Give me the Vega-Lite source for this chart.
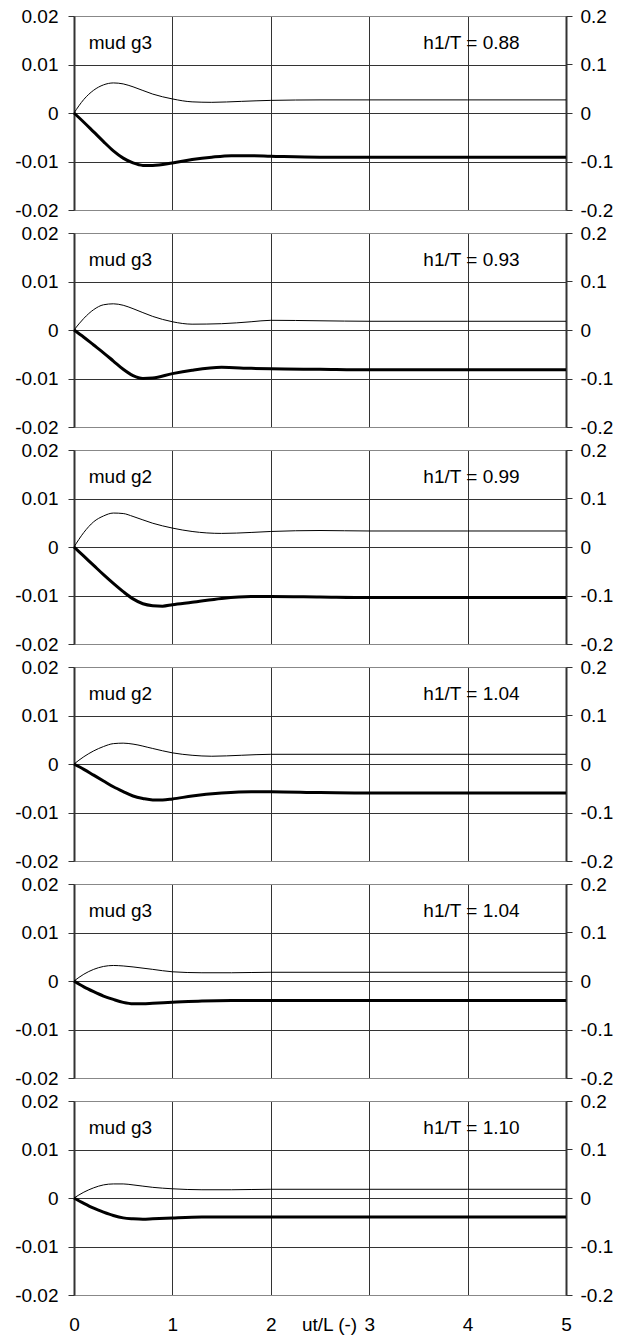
{
"$schema": "https://vega.github.io/schema/vega-lite/v6.json",
"padding": {"left": 14, "top": 7, "right": 5, "bottom": 5},
"spacing": 23,
"bounds": "flush",
"config": {"view": {"stroke": null}, "font": "Liberation Sans", "axis": {"labelFont": "Liberation Sans", "labelFontSize": 19, "labelColor": "#000", "titleFont": "Liberation Sans", "titleFontSize": 19, "titleColor": "#000", "titleFontWeight": "normal", "labelFlush": false, "labelOverlap": false}, "text": {"font": "Liberation Sans", "fontSize": 19, "color": "#000"}},
"datasets": {
"c": [
{"p":1,"s":"thick","x":0,"v":0},{"p":1,"s":"thick","x":0.1,"v":-0.0019},{"p":1,"s":"thick","x":0.2,"v":-0.0039},{"p":1,"s":"thick","x":0.3,"v":-0.0059},{"p":1,"s":"thick","x":0.4,"v":-0.0078},{"p":1,"s":"thick","x":0.5,"v":-0.0093},{"p":1,"s":"thick","x":0.6,"v":-0.0103},{"p":1,"s":"thick","x":0.7,"v":-0.0108},{"p":1,"s":"thick","x":0.8,"v":-0.0108},{"p":1,"s":"thick","x":1.0,"v":-0.0103},{"p":1,"s":"thick","x":1.2,"v":-0.0096},{"p":1,"s":"thick","x":1.4,"v":-0.0091},{"p":1,"s":"thick","x":1.6,"v":-0.0088},{"p":1,"s":"thick","x":1.8,"v":-0.0088},{"p":1,"s":"thick","x":2.0,"v":-0.0089},{"p":1,"s":"thick","x":2.5,"v":-0.0091},{"p":1,"s":"thick","x":3,"v":-0.0091},{"p":1,"s":"thick","x":4,"v":-0.0091},{"p":1,"s":"thick","x":5,"v":-0.0091},
{"p":1,"s":"thin","x":0,"v":0},{"p":1,"s":"thin","x":0.1,"v":0.028},{"p":1,"s":"thin","x":0.2,"v":0.047},{"p":1,"s":"thin","x":0.3,"v":0.058},{"p":1,"s":"thin","x":0.4,"v":0.062},{"p":1,"s":"thin","x":0.5,"v":0.060},{"p":1,"s":"thin","x":0.6,"v":0.054},{"p":1,"s":"thin","x":0.8,"v":0.039},{"p":1,"s":"thin","x":1.0,"v":0.029},{"p":1,"s":"thin","x":1.2,"v":0.023},{"p":1,"s":"thin","x":1.4,"v":0.022},{"p":1,"s":"thin","x":1.7,"v":0.024},{"p":1,"s":"thin","x":2.0,"v":0.026},{"p":1,"s":"thin","x":2.5,"v":0.027},{"p":1,"s":"thin","x":3,"v":0.027},{"p":1,"s":"thin","x":4,"v":0.027},{"p":1,"s":"thin","x":5,"v":0.027},
{"p":2,"s":"thick","x":0,"v":0},{"p":2,"s":"thick","x":0.1,"v":-0.0015},{"p":2,"s":"thick","x":0.2,"v":-0.0031},{"p":2,"s":"thick","x":0.3,"v":-0.0047},{"p":2,"s":"thick","x":0.4,"v":-0.0064},{"p":2,"s":"thick","x":0.5,"v":-0.0081},{"p":2,"s":"thick","x":0.6,"v":-0.0094},{"p":2,"s":"thick","x":0.7,"v":-0.0100},{"p":2,"s":"thick","x":0.8,"v":-0.0099},{"p":2,"s":"thick","x":1.0,"v":-0.0090},{"p":2,"s":"thick","x":1.2,"v":-0.0083},{"p":2,"s":"thick","x":1.5,"v":-0.0077},{"p":2,"s":"thick","x":1.8,"v":-0.0079},{"p":2,"s":"thick","x":2.0,"v":-0.0080},{"p":2,"s":"thick","x":2.5,"v":-0.0081},{"p":2,"s":"thick","x":3,"v":-0.0082},{"p":2,"s":"thick","x":4,"v":-0.0082},{"p":2,"s":"thick","x":5,"v":-0.0082},
{"p":2,"s":"thin","x":0,"v":0},{"p":2,"s":"thin","x":0.1,"v":0.024},{"p":2,"s":"thin","x":0.2,"v":0.042},{"p":2,"s":"thin","x":0.3,"v":0.052},{"p":2,"s":"thin","x":0.4,"v":0.054},{"p":2,"s":"thin","x":0.5,"v":0.051},{"p":2,"s":"thin","x":0.6,"v":0.044},{"p":2,"s":"thin","x":0.8,"v":0.028},{"p":2,"s":"thin","x":1.0,"v":0.017},{"p":2,"s":"thin","x":1.2,"v":0.012},{"p":2,"s":"thin","x":1.5,"v":0.013},{"p":2,"s":"thin","x":1.8,"v":0.017},{"p":2,"s":"thin","x":2.0,"v":0.020},{"p":2,"s":"thin","x":2.5,"v":0.019},{"p":2,"s":"thin","x":3,"v":0.018},{"p":2,"s":"thin","x":4,"v":0.018},{"p":2,"s":"thin","x":5,"v":0.018},
{"p":3,"s":"thick","x":0,"v":0},{"p":3,"s":"thick","x":0.1,"v":-0.0019},{"p":3,"s":"thick","x":0.2,"v":-0.0038},{"p":3,"s":"thick","x":0.3,"v":-0.0057},{"p":3,"s":"thick","x":0.4,"v":-0.0075},{"p":3,"s":"thick","x":0.5,"v":-0.0092},{"p":3,"s":"thick","x":0.6,"v":-0.0107},{"p":3,"s":"thick","x":0.7,"v":-0.0117},{"p":3,"s":"thick","x":0.8,"v":-0.0121},{"p":3,"s":"thick","x":0.9,"v":-0.0122},{"p":3,"s":"thick","x":1.0,"v":-0.0119},{"p":3,"s":"thick","x":1.2,"v":-0.0114},{"p":3,"s":"thick","x":1.5,"v":-0.0106},{"p":3,"s":"thick","x":1.8,"v":-0.0102},{"p":3,"s":"thick","x":2.0,"v":-0.0102},{"p":3,"s":"thick","x":2.5,"v":-0.0103},{"p":3,"s":"thick","x":3,"v":-0.0104},{"p":3,"s":"thick","x":4,"v":-0.0104},{"p":3,"s":"thick","x":5,"v":-0.0104},
{"p":3,"s":"thin","x":0,"v":0},{"p":3,"s":"thin","x":0.1,"v":0.030},{"p":3,"s":"thin","x":0.2,"v":0.052},{"p":3,"s":"thin","x":0.3,"v":0.064},{"p":3,"s":"thin","x":0.4,"v":0.070},{"p":3,"s":"thin","x":0.5,"v":0.069},{"p":3,"s":"thin","x":0.6,"v":0.063},{"p":3,"s":"thin","x":0.8,"v":0.049},{"p":3,"s":"thin","x":1.0,"v":0.039},{"p":3,"s":"thin","x":1.2,"v":0.032},{"p":3,"s":"thin","x":1.5,"v":0.028},{"p":3,"s":"thin","x":1.8,"v":0.030},{"p":3,"s":"thin","x":2.0,"v":0.032},{"p":3,"s":"thin","x":2.5,"v":0.034},{"p":3,"s":"thin","x":3,"v":0.033},{"p":3,"s":"thin","x":4,"v":0.033},{"p":3,"s":"thin","x":5,"v":0.033},
{"p":4,"s":"thick","x":0,"v":0},{"p":4,"s":"thick","x":0.1,"v":-0.0011},{"p":4,"s":"thick","x":0.2,"v":-0.0023},{"p":4,"s":"thick","x":0.3,"v":-0.0035},{"p":4,"s":"thick","x":0.4,"v":-0.0047},{"p":4,"s":"thick","x":0.5,"v":-0.0057},{"p":4,"s":"thick","x":0.6,"v":-0.0066},{"p":4,"s":"thick","x":0.7,"v":-0.0071},{"p":4,"s":"thick","x":0.8,"v":-0.0074},{"p":4,"s":"thick","x":0.9,"v":-0.0074},{"p":4,"s":"thick","x":1.0,"v":-0.0072},{"p":4,"s":"thick","x":1.2,"v":-0.0066},{"p":4,"s":"thick","x":1.5,"v":-0.0060},{"p":4,"s":"thick","x":1.8,"v":-0.0057},{"p":4,"s":"thick","x":2.0,"v":-0.0057},{"p":4,"s":"thick","x":2.5,"v":-0.0059},{"p":4,"s":"thick","x":3,"v":-0.0060},{"p":4,"s":"thick","x":4,"v":-0.0060},{"p":4,"s":"thick","x":5,"v":-0.0060},
{"p":4,"s":"thin","x":0,"v":0},{"p":4,"s":"thin","x":0.1,"v":0.015},{"p":4,"s":"thin","x":0.2,"v":0.027},{"p":4,"s":"thin","x":0.3,"v":0.036},{"p":4,"s":"thin","x":0.4,"v":0.042},{"p":4,"s":"thin","x":0.5,"v":0.043},{"p":4,"s":"thin","x":0.6,"v":0.041},{"p":4,"s":"thin","x":0.8,"v":0.032},{"p":4,"s":"thin","x":1.0,"v":0.023},{"p":4,"s":"thin","x":1.2,"v":0.018},{"p":4,"s":"thin","x":1.4,"v":0.016},{"p":4,"s":"thin","x":1.7,"v":0.018},{"p":4,"s":"thin","x":2.0,"v":0.020},{"p":4,"s":"thin","x":3,"v":0.020},{"p":4,"s":"thin","x":4,"v":0.020},{"p":4,"s":"thin","x":5,"v":0.020},
{"p":5,"s":"thick","x":0,"v":0},{"p":5,"s":"thick","x":0.1,"v":-0.0012},{"p":5,"s":"thick","x":0.2,"v":-0.0022},{"p":5,"s":"thick","x":0.3,"v":-0.0031},{"p":5,"s":"thick","x":0.4,"v":-0.0038},{"p":5,"s":"thick","x":0.5,"v":-0.0044},{"p":5,"s":"thick","x":0.6,"v":-0.0047},{"p":5,"s":"thick","x":0.7,"v":-0.0047},{"p":5,"s":"thick","x":0.8,"v":-0.0046},{"p":5,"s":"thick","x":1.0,"v":-0.0044},{"p":5,"s":"thick","x":1.3,"v":-0.0041},{"p":5,"s":"thick","x":1.6,"v":-0.0040},{"p":5,"s":"thick","x":2,"v":-0.0040},{"p":5,"s":"thick","x":3,"v":-0.0040},{"p":5,"s":"thick","x":4,"v":-0.0040},{"p":5,"s":"thick","x":5,"v":-0.0040},
{"p":5,"s":"thin","x":0,"v":0},{"p":5,"s":"thin","x":0.1,"v":0.014},{"p":5,"s":"thin","x":0.2,"v":0.024},{"p":5,"s":"thin","x":0.3,"v":0.030},{"p":5,"s":"thin","x":0.4,"v":0.032},{"p":5,"s":"thin","x":0.5,"v":0.031},{"p":5,"s":"thin","x":0.6,"v":0.029},{"p":5,"s":"thin","x":0.8,"v":0.024},{"p":5,"s":"thin","x":1.0,"v":0.019},{"p":5,"s":"thin","x":1.3,"v":0.017},{"p":5,"s":"thin","x":1.6,"v":0.017},{"p":5,"s":"thin","x":2,"v":0.018},{"p":5,"s":"thin","x":3,"v":0.018},{"p":5,"s":"thin","x":4,"v":0.018},{"p":5,"s":"thin","x":5,"v":0.018},
{"p":6,"s":"thick","x":0,"v":0},{"p":6,"s":"thick","x":0.1,"v":-0.0011},{"p":6,"s":"thick","x":0.2,"v":-0.0021},{"p":6,"s":"thick","x":0.3,"v":-0.0029},{"p":6,"s":"thick","x":0.4,"v":-0.0036},{"p":6,"s":"thick","x":0.5,"v":-0.0041},{"p":6,"s":"thick","x":0.6,"v":-0.0043},{"p":6,"s":"thick","x":0.7,"v":-0.0044},{"p":6,"s":"thick","x":0.8,"v":-0.0043},{"p":6,"s":"thick","x":1.0,"v":-0.0041},{"p":6,"s":"thick","x":1.3,"v":-0.0039},{"p":6,"s":"thick","x":2,"v":-0.0039},{"p":6,"s":"thick","x":3,"v":-0.0039},{"p":6,"s":"thick","x":4,"v":-0.0039},{"p":6,"s":"thick","x":5,"v":-0.0039},
{"p":6,"s":"thin","x":0,"v":0},{"p":6,"s":"thin","x":0.1,"v":0.012},{"p":6,"s":"thin","x":0.2,"v":0.021},{"p":6,"s":"thin","x":0.3,"v":0.027},{"p":6,"s":"thin","x":0.4,"v":0.029},{"p":6,"s":"thin","x":0.5,"v":0.029},{"p":6,"s":"thin","x":0.6,"v":0.027},{"p":6,"s":"thin","x":0.8,"v":0.022},{"p":6,"s":"thin","x":1.0,"v":0.019},{"p":6,"s":"thin","x":1.3,"v":0.017},{"p":6,"s":"thin","x":1.6,"v":0.017},{"p":6,"s":"thin","x":2,"v":0.018},{"p":6,"s":"thin","x":3,"v":0.018},{"p":6,"s":"thin","x":4,"v":0.018},{"p":6,"s":"thin","x":5,"v":0.018}
],
"n": [
{"p":1,"x":0.15,"v":0.0145,"t":"mud g3"},{"p":1,"x":3.55,"v":0.0145,"t":"h1/T = 0.88"},
{"p":2,"x":0.15,"v":0.0145,"t":"mud g3"},{"p":2,"x":3.55,"v":0.0145,"t":"h1/T = 0.93"},
{"p":3,"x":0.15,"v":0.0145,"t":"mud g2"},{"p":3,"x":3.55,"v":0.0145,"t":"h1/T = 0.99"},
{"p":4,"x":0.15,"v":0.0145,"t":"mud g2"},{"p":4,"x":3.55,"v":0.0145,"t":"h1/T = 1.04"},
{"p":5,"x":0.15,"v":0.0145,"t":"mud g3"},{"p":5,"x":3.55,"v":0.0145,"t":"h1/T = 1.04"},
{"p":6,"x":0.15,"v":0.0145,"t":"mud g3"},{"p":6,"x":3.55,"v":0.0145,"t":"h1/T = 1.10"}
]
},
"vconcat": [
{"width": 492, "height": 194, "resolve": {"scale": {"y": "independent"}}, "layer": [
 {"layer": [
  {"data": {"name": "c"}, "transform": [{"filter": "datum.p == 1 && datum.s == 'thick'"}], "mark": {"type": "line", "color": "#000", "strokeWidth": 3, "interpolate": "monotone"},
   "encoding": {"x": {"field": "x", "type": "quantitative", "scale": {"domain": [0, 5]}, "axis": {"title": null, "labels": false, "ticks": false, "domain": false, "grid": true, "gridColor": "#333", "gridWidth": 1, "values": [0,1,2,3,4,5]}},
    "y": {"field": "v", "type": "quantitative", "scale": {"domain": [-0.02, 0.02]}, "axis": {"title": null, "values": [-0.02,-0.01,0,0.01,0.02], "labelExpr": "'' + datum.value", "tickSize": 6, "tickColor": "#333", "labelPadding": 10, "domainColor": "#333", "domainWidth": 2, "grid": true, "gridColor": {"condition": {"test": "abs(datum.value) > 0.015", "value": "#888"}, "value": "#333"}, "gridWidth": 1}}}},
  {"data": {"name": "n"}, "transform": [{"filter": "datum.p == 1"}], "mark": {"type": "text", "align": "left", "baseline": "middle", "fontSize": 19},
   "encoding": {"x": {"field": "x", "type": "quantitative", "title": null}, "y": {"field": "v", "type": "quantitative", "title": null}, "text": {"field": "t"}}}
 ]},
 {"data": {"name": "c"}, "transform": [{"filter": "datum.p == 1 && datum.s == 'thin'"}], "mark": {"type": "line", "color": "#000", "strokeWidth": 1, "interpolate": "monotone"},
  "encoding": {"x": {"field": "x", "type": "quantitative", "title": null},
   "y": {"field": "v", "type": "quantitative", "scale": {"domain": [-0.2, 0.2]}, "axis": {"orient": "right", "title": null, "values": [-0.2,-0.1,0,0.1,0.2], "labelExpr": "'' + datum.value", "tickSize": 6, "tickColor": "#333", "labelPadding": 8, "domainColor": "#333", "domainWidth": 2, "grid": false}}}}
]},
{"width": 492, "height": 194, "resolve": {"scale": {"y": "independent"}}, "layer": [
 {"layer": [
  {"data": {"name": "c"}, "transform": [{"filter": "datum.p == 2 && datum.s == 'thick'"}], "mark": {"type": "line", "color": "#000", "strokeWidth": 3, "interpolate": "monotone"},
   "encoding": {"x": {"field": "x", "type": "quantitative", "scale": {"domain": [0, 5]}, "axis": {"title": null, "labels": false, "ticks": false, "domain": false, "grid": true, "gridColor": "#333", "gridWidth": 1, "values": [0,1,2,3,4,5]}},
    "y": {"field": "v", "type": "quantitative", "scale": {"domain": [-0.02, 0.02]}, "axis": {"title": null, "values": [-0.02,-0.01,0,0.01,0.02], "labelExpr": "'' + datum.value", "tickSize": 6, "tickColor": "#333", "labelPadding": 10, "domainColor": "#333", "domainWidth": 2, "grid": true, "gridColor": {"condition": {"test": "abs(datum.value) > 0.015", "value": "#888"}, "value": "#333"}, "gridWidth": 1}}}},
  {"data": {"name": "n"}, "transform": [{"filter": "datum.p == 2"}], "mark": {"type": "text", "align": "left", "baseline": "middle", "fontSize": 19},
   "encoding": {"x": {"field": "x", "type": "quantitative", "title": null}, "y": {"field": "v", "type": "quantitative", "title": null}, "text": {"field": "t"}}}
 ]},
 {"data": {"name": "c"}, "transform": [{"filter": "datum.p == 2 && datum.s == 'thin'"}], "mark": {"type": "line", "color": "#000", "strokeWidth": 1, "interpolate": "monotone"},
  "encoding": {"x": {"field": "x", "type": "quantitative", "title": null},
   "y": {"field": "v", "type": "quantitative", "scale": {"domain": [-0.2, 0.2]}, "axis": {"orient": "right", "title": null, "values": [-0.2,-0.1,0,0.1,0.2], "labelExpr": "'' + datum.value", "tickSize": 6, "tickColor": "#333", "labelPadding": 8, "domainColor": "#333", "domainWidth": 2, "grid": false}}}}
]},
{"width": 492, "height": 194, "resolve": {"scale": {"y": "independent"}}, "layer": [
 {"layer": [
  {"data": {"name": "c"}, "transform": [{"filter": "datum.p == 3 && datum.s == 'thick'"}], "mark": {"type": "line", "color": "#000", "strokeWidth": 3, "interpolate": "monotone"},
   "encoding": {"x": {"field": "x", "type": "quantitative", "scale": {"domain": [0, 5]}, "axis": {"title": null, "labels": false, "ticks": false, "domain": false, "grid": true, "gridColor": "#333", "gridWidth": 1, "values": [0,1,2,3,4,5]}},
    "y": {"field": "v", "type": "quantitative", "scale": {"domain": [-0.02, 0.02]}, "axis": {"title": null, "values": [-0.02,-0.01,0,0.01,0.02], "labelExpr": "'' + datum.value", "tickSize": 6, "tickColor": "#333", "labelPadding": 10, "domainColor": "#333", "domainWidth": 2, "grid": true, "gridColor": {"condition": {"test": "abs(datum.value) > 0.015", "value": "#888"}, "value": "#333"}, "gridWidth": 1}}}},
  {"data": {"name": "n"}, "transform": [{"filter": "datum.p == 3"}], "mark": {"type": "text", "align": "left", "baseline": "middle", "fontSize": 19},
   "encoding": {"x": {"field": "x", "type": "quantitative", "title": null}, "y": {"field": "v", "type": "quantitative", "title": null}, "text": {"field": "t"}}}
 ]},
 {"data": {"name": "c"}, "transform": [{"filter": "datum.p == 3 && datum.s == 'thin'"}], "mark": {"type": "line", "color": "#000", "strokeWidth": 1, "interpolate": "monotone"},
  "encoding": {"x": {"field": "x", "type": "quantitative", "title": null},
   "y": {"field": "v", "type": "quantitative", "scale": {"domain": [-0.2, 0.2]}, "axis": {"orient": "right", "title": null, "values": [-0.2,-0.1,0,0.1,0.2], "labelExpr": "'' + datum.value", "tickSize": 6, "tickColor": "#333", "labelPadding": 8, "domainColor": "#333", "domainWidth": 2, "grid": false}}}}
]},
{"width": 492, "height": 194, "resolve": {"scale": {"y": "independent"}}, "layer": [
 {"layer": [
  {"data": {"name": "c"}, "transform": [{"filter": "datum.p == 4 && datum.s == 'thick'"}], "mark": {"type": "line", "color": "#000", "strokeWidth": 3, "interpolate": "monotone"},
   "encoding": {"x": {"field": "x", "type": "quantitative", "scale": {"domain": [0, 5]}, "axis": {"title": null, "labels": false, "ticks": false, "domain": false, "grid": true, "gridColor": "#333", "gridWidth": 1, "values": [0,1,2,3,4,5]}},
    "y": {"field": "v", "type": "quantitative", "scale": {"domain": [-0.02, 0.02]}, "axis": {"title": null, "values": [-0.02,-0.01,0,0.01,0.02], "labelExpr": "'' + datum.value", "tickSize": 6, "tickColor": "#333", "labelPadding": 10, "domainColor": "#333", "domainWidth": 2, "grid": true, "gridColor": {"condition": {"test": "abs(datum.value) > 0.015", "value": "#888"}, "value": "#333"}, "gridWidth": 1}}}},
  {"data": {"name": "n"}, "transform": [{"filter": "datum.p == 4"}], "mark": {"type": "text", "align": "left", "baseline": "middle", "fontSize": 19},
   "encoding": {"x": {"field": "x", "type": "quantitative", "title": null}, "y": {"field": "v", "type": "quantitative", "title": null}, "text": {"field": "t"}}}
 ]},
 {"data": {"name": "c"}, "transform": [{"filter": "datum.p == 4 && datum.s == 'thin'"}], "mark": {"type": "line", "color": "#000", "strokeWidth": 1, "interpolate": "monotone"},
  "encoding": {"x": {"field": "x", "type": "quantitative", "title": null},
   "y": {"field": "v", "type": "quantitative", "scale": {"domain": [-0.2, 0.2]}, "axis": {"orient": "right", "title": null, "values": [-0.2,-0.1,0,0.1,0.2], "labelExpr": "'' + datum.value", "tickSize": 6, "tickColor": "#333", "labelPadding": 8, "domainColor": "#333", "domainWidth": 2, "grid": false}}}}
]},
{"width": 492, "height": 194, "resolve": {"scale": {"y": "independent"}}, "layer": [
 {"layer": [
  {"data": {"name": "c"}, "transform": [{"filter": "datum.p == 5 && datum.s == 'thick'"}], "mark": {"type": "line", "color": "#000", "strokeWidth": 3, "interpolate": "monotone"},
   "encoding": {"x": {"field": "x", "type": "quantitative", "scale": {"domain": [0, 5]}, "axis": {"title": null, "labels": false, "ticks": false, "domain": false, "grid": true, "gridColor": "#333", "gridWidth": 1, "values": [0,1,2,3,4,5]}},
    "y": {"field": "v", "type": "quantitative", "scale": {"domain": [-0.02, 0.02]}, "axis": {"title": null, "values": [-0.02,-0.01,0,0.01,0.02], "labelExpr": "'' + datum.value", "tickSize": 6, "tickColor": "#333", "labelPadding": 10, "domainColor": "#333", "domainWidth": 2, "grid": true, "gridColor": {"condition": {"test": "abs(datum.value) > 0.015", "value": "#888"}, "value": "#333"}, "gridWidth": 1}}}},
  {"data": {"name": "n"}, "transform": [{"filter": "datum.p == 5"}], "mark": {"type": "text", "align": "left", "baseline": "middle", "fontSize": 19},
   "encoding": {"x": {"field": "x", "type": "quantitative", "title": null}, "y": {"field": "v", "type": "quantitative", "title": null}, "text": {"field": "t"}}}
 ]},
 {"data": {"name": "c"}, "transform": [{"filter": "datum.p == 5 && datum.s == 'thin'"}], "mark": {"type": "line", "color": "#000", "strokeWidth": 1, "interpolate": "monotone"},
  "encoding": {"x": {"field": "x", "type": "quantitative", "title": null},
   "y": {"field": "v", "type": "quantitative", "scale": {"domain": [-0.2, 0.2]}, "axis": {"orient": "right", "title": null, "values": [-0.2,-0.1,0,0.1,0.2], "labelExpr": "'' + datum.value", "tickSize": 6, "tickColor": "#333", "labelPadding": 8, "domainColor": "#333", "domainWidth": 2, "grid": false}}}}
]},
{"width": 492, "height": 194, "resolve": {"scale": {"y": "independent"}}, "layer": [
 {"layer": [
  {"data": {"name": "c"}, "transform": [{"filter": "datum.p == 6 && datum.s == 'thick'"}], "mark": {"type": "line", "color": "#000", "strokeWidth": 3, "interpolate": "monotone"},
   "encoding": {"x": {"field": "x", "type": "quantitative", "scale": {"domain": [0, 5]}, "title": "ut/L (-)", "axis": {"title": "ut/L (-)", "titleX": 255, "titleY": 20, "titleBaseline": "top", "titleAlign": "center", "titleAnchor": null, "labels": true, "labelExpr": "'' + datum.value", "labelPadding": 20, "ticks": false, "domain": true, "domainColor": "#888", "domainWidth": 1, "grid": true, "gridColor": "#333", "gridWidth": 1, "values": [0,1,2,3,4,5]}},
    "y": {"field": "v", "type": "quantitative", "scale": {"domain": [-0.02, 0.02]}, "axis": {"title": null, "values": [-0.02,-0.01,0,0.01,0.02], "labelExpr": "'' + datum.value", "tickSize": 6, "tickColor": "#333", "labelPadding": 10, "domainColor": "#333", "domainWidth": 2, "grid": true, "gridColor": {"condition": {"test": "abs(datum.value) > 0.015", "value": "#888"}, "value": "#333"}, "gridWidth": 1}}}},
  {"data": {"name": "n"}, "transform": [{"filter": "datum.p == 6"}], "mark": {"type": "text", "align": "left", "baseline": "middle", "fontSize": 19},
   "encoding": {"x": {"field": "x", "type": "quantitative", "title": "ut/L (-)"}, "y": {"field": "v", "type": "quantitative", "title": null}, "text": {"field": "t"}}}
 ]},
 {"data": {"name": "c"}, "transform": [{"filter": "datum.p == 6 && datum.s == 'thin'"}], "mark": {"type": "line", "color": "#000", "strokeWidth": 1, "interpolate": "monotone"},
  "encoding": {"x": {"field": "x", "type": "quantitative", "title": "ut/L (-)"},
   "y": {"field": "v", "type": "quantitative", "scale": {"domain": [-0.2, 0.2]}, "axis": {"orient": "right", "title": null, "values": [-0.2,-0.1,0,0.1,0.2], "labelExpr": "'' + datum.value", "tickSize": 6, "tickColor": "#333", "labelPadding": 8, "domainColor": "#333", "domainWidth": 2, "grid": false}}}}
]}
]
}
